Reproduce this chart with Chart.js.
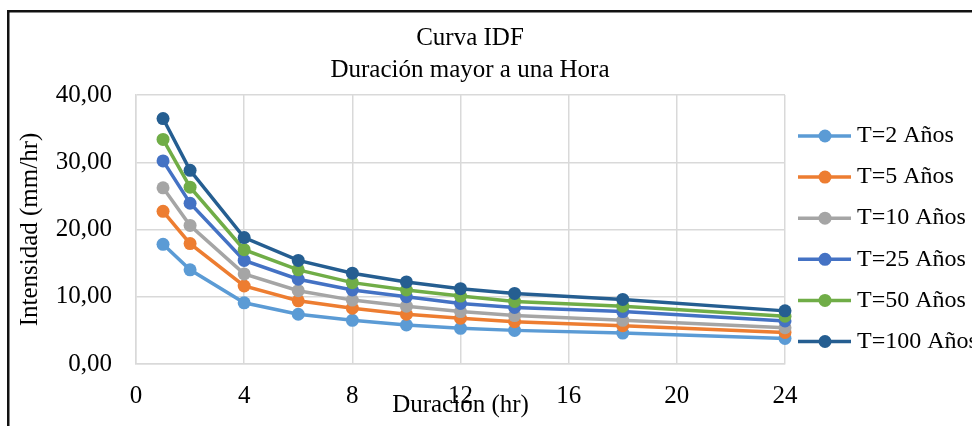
<!DOCTYPE html>
<html>
<head>
<meta charset="utf-8">
<title>Curva IDF</title>
<script src="https://cdn.jsdelivr.net/npm/chart.js@4.4.1/dist/chart.umd.min.js"></script>
<style>
  html, body { margin: 0; padding: 0; background: #ffffff; }
  #wrap { width: 972px; height: 426px; }
</style>
</head>
<body>
<div id="wrap"><canvas id="idf" width="972" height="426"></canvas></div>
<script>
// Duración de la lluvia (horas)
const durations = [1, 2, 4, 6, 8, 10, 12, 14, 18, 24];

// Intensidad (mm/hr) por período de retorno
const t2   = [17.8, 14.0, 9.1, 7.4, 6.5, 5.8, 5.3, 5.0, 4.6, 3.8];
const t5   = [22.7, 17.9, 11.6, 9.4, 8.3, 7.4, 6.8, 6.3, 5.7, 4.7];
const t10  = [26.2, 20.6, 13.4, 10.9, 9.5, 8.6, 7.8, 7.2, 6.5, 5.4];
const t25  = [30.2, 23.9, 15.4, 12.6, 11.0, 10.0, 9.0, 8.4, 7.8, 6.4];
const t50  = [33.4, 26.3, 17.0, 14.0, 12.1, 11.0, 10.1, 9.3, 8.6, 7.1];
const t100 = [36.5, 28.8, 18.8, 15.4, 13.5, 12.2, 11.2, 10.5, 9.6, 7.9];

const seriesNames  = ['T=2 Años', 'T=5 Años', 'T=10 Años', 'T=25 Años', 'T=50 Años', 'T=100 Años'];
const seriesValues = [t2, t5, t10, t25, t50, t100];
const seriesColors = ['#5B9BD5', '#ED7D31', '#A5A5A5', '#4472C4', '#70AD47', '#255E91'];

const titleLines = ['Curva IDF', 'Duración mayor a una Hora'];
const xAxisTitle = 'Duración (hr)';
const yAxisTitle = 'Intensidad (mm/hr)';
const xTicks = [0, 4, 8, 12, 16, 20, 24];
const yTicks = [0, 10, 20, 30, 40];

const SERIF = '"Liberation Serif", "Times New Roman", serif';
const GRID = '#d9d9d9';

const datasets = seriesNames.map((name, i) => ({
  label: name,
  data: durations.map((d, k) => ({ x: d, y: seriesValues[i][k] })),
  borderColor: seriesColors[i],
  backgroundColor: seriesColors[i],
  pointBackgroundColor: seriesColors[i],
  pointBorderColor: seriesColors[i],
  borderWidth: 3.5,
  pointRadius: 6.5,
  pointBorderWidth: 0,
  tension: 0,
  clip: false,
  // later series sit on top, as in the spreadsheet original
  order: seriesNames.length - i
}));

// Outer frame, two-line heading and the legend at the right
const decorations = {
  id: 'decorations',
  beforeDraw(chart) {
    const ctx = chart.ctx;
    ctx.save();
    ctx.fillStyle = '#ffffff';
    ctx.fillRect(0, 0, chart.width, chart.height);
    ctx.strokeStyle = '#111111';
    ctx.lineWidth = 2.5;
    ctx.beginPath();
    ctx.moveTo(8.25, chart.height + 5);
    ctx.lineTo(8.25, 11.25);
    ctx.lineTo(chart.width + 5, 11.25);
    ctx.stroke();
    ctx.restore();
  },
  afterDraw(chart) {
    const ctx = chart.ctx;
    const area = chart.chartArea;
    ctx.save();
    ctx.fillStyle = '#000000';
    ctx.textAlign = 'center';
    ctx.textBaseline = 'middle';
    ctx.font = '25px ' + SERIF;
    titleLines.forEach((line, i) => ctx.fillText(line, 470, 38 + i * 32));

    const lx = area.right + 13;
    ctx.font = '24px ' + SERIF;
    ctx.textAlign = 'left';
    chart.data.datasets.forEach((ds, i) => {
      const y = area.top + 41 + i * 41.1;
      ctx.strokeStyle = ds.borderColor;
      ctx.lineWidth = 3.5;
      ctx.beginPath();
      ctx.moveTo(lx, y);
      ctx.lineTo(lx + 53, y);
      ctx.stroke();
      ctx.fillStyle = ds.borderColor;
      ctx.beginPath();
      ctx.arc(lx + 27, y, 6.5, 0, Math.PI * 2);
      ctx.fill();
      ctx.fillStyle = '#000000';
      ctx.fillText(ds.label, lx + 59, y);
    });
    ctx.restore();
  }
};

new Chart(document.getElementById('idf'), {
  type: 'line',
  data: { datasets },
  plugins: [decorations],
  options: {
    responsive: false,
    animation: false,
    layout: { padding: { top: 95, right: 187, left: 0, bottom: 0 } },
    plugins: {
      legend: { display: false },
      title: { display: false },
      tooltip: { enabled: false }
    },
    scales: {
      x: {
        type: 'linear',
        min: xTicks[0],
        max: xTicks[xTicks.length - 1],
        afterBuildTicks(scale) { scale.ticks = xTicks.map(v => ({ value: v })); },
        afterFit(scale) { scale.height = 62; },
        grid: { color: GRID, lineWidth: 1.5, drawTicks: false },
        border: { color: GRID, width: 1.5 },
        ticks: {
          padding: 17,
          color: '#000000',
          font: { family: SERIF, size: 25 },
          callback: v => String(v)
        },
        title: {
          display: true,
          text: xAxisTitle,
          color: '#000000',
          font: { family: SERIF, size: 25 },
          padding: { top: 0, bottom: 6 }
        }
      },
      y: {
        min: yTicks[0],
        max: yTicks[yTicks.length - 1],
        afterBuildTicks(scale) { scale.ticks = yTicks.map(v => ({ value: v })); },
        afterFit(scale) { scale.width = 136; },
        grid: { color: GRID, lineWidth: 1.5, drawTicks: false },
        border: { color: GRID, width: 1.5 },
        ticks: {
          padding: 24,
          color: '#000000',
          font: { family: SERIF, size: 25 },
          callback: v => v.toFixed(2).replace('.', ',')
        },
        title: {
          display: true,
          text: yAxisTitle,
          color: '#000000',
          font: { family: SERIF, size: 25 },
          padding: { top: 15, bottom: 0 }
        }
      }
    }
  }
});
</script>
</body>
</html>
